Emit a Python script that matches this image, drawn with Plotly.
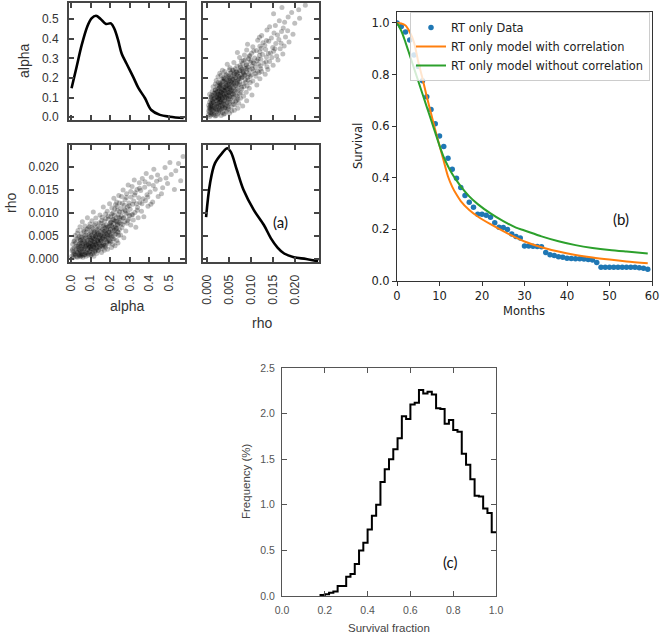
import plotly.graph_objects as go

W, H = 660, 635

# ---------------- (a) pair plot ----------------
alpha_kde_x = [0.003, 0.029, 0.055, 0.083, 0.105, 0.128, 0.150, 0.179, 0.204, 0.222, 0.241, 0.259,
               0.284, 0.318, 0.344, 0.378, 0.410, 0.454, 0.505, 0.575]
alpha_kde_y = [0.148, 0.258, 0.369, 0.462, 0.505, 0.518, 0.503, 0.476, 0.479, 0.450, 0.392, 0.324,
               0.273, 0.205, 0.150, 0.097, 0.037, 0.012, 0.003, -0.004]

rho_kde_x = [-0.0002, 0.0007, 0.0018, 0.0034, 0.0046, 0.0054, 0.0068, 0.0083, 0.0106, 0.0129,
             0.0145, 0.0160, 0.0175, 0.0197, 0.0225, 0.0252]
rho_kde_y = [0.0091, 0.0165, 0.0208, 0.0230, 0.0241, 0.0233, 0.0193, 0.0150, 0.0107, 0.0074,
             0.0045, 0.0025, 0.0012, 0.0004, 0.0000, -0.0005]

samples = [
    (0.004, 0.6), (0.008, 2.1), (0.011, 0.3), (0.015, 3.8), (0.018, 1.2), (0.021, 5.1), (0.023, 0.8),
    (0.026, 2.7), (0.028, 1.6), (0.031, 4.4), (0.033, 0.4), (0.035, 3.1), (0.036, 6.2), (0.038, 1.9),
    (0.040, 2.4), (0.041, 0.9), (0.043, 4.9), (0.044, 3.4), (0.045, 1.3), (0.046, 7.0), (0.047, 2.9),
    (0.048, 0.5), (0.049, 4.1), (0.050, 1.7), (0.013, 1.5),
    (0.051, 3.6), (0.052, 0.7), (0.053, 5.5), (0.055, 2.2), (0.056, 1.1), (0.057, 4.2), (0.058, 8.1),
    (0.060, 3.0), (0.061, 0.4), (0.062, 2.6), (0.064, 6.3), (0.065, 1.8), (0.066, 3.9), (0.068, 0.9),
    (0.069, 5.0), (0.070, 2.4), (0.071, 7.2), (0.073, 3.3), (0.074, 1.4), (0.075, 4.6), (0.077, 0.6),
    (0.078, 2.9), (0.079, 5.8), (0.080, 3.7), (0.082, 1.2), (0.083, 4.0), (0.084, 9.0), (0.086, 2.0),
    (0.087, 6.7), (0.088, 3.2), (0.090, 0.8), (0.091, 4.8), (0.092, 2.5), (0.093, 5.3), (0.095, 1.6),
    (0.096, 3.5), (0.097, 7.6), (0.098, 2.8), (0.099, 4.4), (0.100, 1.0),
    (0.101, 4.1), (0.102, 2.3), (0.103, 6.0), (0.104, 0.9), (0.105, 3.4), (0.106, 5.2), (0.107, 8.3),
    (0.108, 2.7), (0.109, 4.6), (0.110, 1.5), (0.111, 3.8), (0.112, 6.6), (0.113, 2.0), (0.114, 10.2),
    (0.115, 4.9), (0.116, 3.1), (0.117, 0.6), (0.118, 5.6), (0.119, 2.5), (0.120, 7.4), (0.121, 3.6),
    (0.122, 4.3), (0.123, 1.8), (0.124, 6.1), (0.125, 3.0), (0.126, 5.0), (0.127, 8.9), (0.128, 2.2),
    (0.129, 4.7), (0.130, 3.3), (0.131, 1.2), (0.133, 5.9), (0.134, 4.0), (0.135, 2.8), (0.136, 7.0),
    (0.138, 3.7), (0.139, 5.4), (0.140, 1.9), (0.141, 4.4), (0.143, 6.8), (0.144, 3.2), (0.145, 2.4),
    (0.147, 5.1), (0.148, 9.6), (0.149, 4.2),
    (0.151, 5.3), (0.152, 2.9), (0.153, 7.8), (0.154, 4.1), (0.156, 1.4), (0.157, 6.2), (0.158, 3.6),
    (0.159, 9.1), (0.160, 5.0), (0.162, 2.3), (0.163, 7.1), (0.164, 4.6), (0.165, 11.3), (0.166, 3.3),
    (0.168, 6.0), (0.169, 5.5), (0.170, 1.9), (0.171, 8.2), (0.172, 4.3), (0.174, 6.8), (0.175, 3.0),
    (0.176, 5.7), (0.177, 9.8), (0.178, 2.6), (0.180, 7.4), (0.181, 4.8), (0.182, 6.4), (0.184, 3.8),
    (0.185, 10.4), (0.186, 5.2), (0.187, 2.1), (0.189, 7.0), (0.190, 4.5), (0.191, 8.7), (0.193, 6.1),
    (0.194, 3.4), (0.195, 5.9), (0.197, 12.0), (0.198, 4.0), (0.199, 7.7),
    (0.201, 6.5), (0.202, 3.7), (0.203, 9.2), (0.204, 5.4), (0.205, 8.0), (0.207, 2.5), (0.208, 7.3),
    (0.209, 11.1), (0.210, 4.8), (0.211, 6.9), (0.213, 8.6), (0.214, 3.2), (0.215, 10.0), (0.216, 5.9),
    (0.218, 7.7), (0.219, 13.2), (0.220, 4.3), (0.221, 9.5), (0.222, 6.2), (0.224, 8.3), (0.225, 2.9),
    (0.226, 7.0), (0.227, 11.8), (0.229, 5.5), (0.230, 9.0), (0.231, 6.6), (0.233, 12.4), (0.234, 4.0),
    (0.235, 8.1), (0.236, 10.6), (0.238, 6.0), (0.239, 7.5), (0.240, 3.5), (0.242, 9.7), (0.243, 5.1),
    (0.244, 13.8), (0.246, 7.9), (0.247, 6.4), (0.248, 10.3), (0.249, 8.8),
    (0.251, 8.4), (0.253, 5.2), (0.255, 11.0), (0.257, 9.3), (0.258, 13.6), (0.260, 6.8), (0.262, 10.2),
    (0.264, 7.5), (0.266, 15.0), (0.268, 9.0), (0.270, 4.6), (0.272, 11.7), (0.274, 8.1), (0.276, 12.9),
    (0.278, 10.5), (0.280, 6.1), (0.282, 9.8), (0.284, 14.2), (0.286, 7.8), (0.288, 11.3), (0.290, 10.0),
    (0.292, 16.1), (0.294, 8.7), (0.296, 12.2), (0.299, 9.4),
    (0.302, 10.8), (0.305, 7.4), (0.307, 13.5), (0.310, 9.6), (0.312, 15.8), (0.315, 11.9), (0.318, 8.5),
    (0.320, 12.6), (0.323, 17.2), (0.326, 10.1), (0.328, 14.4), (0.331, 6.9), (0.334, 12.0), (0.337, 15.1),
    (0.340, 11.2), (0.343, 9.0), (0.346, 13.3), (0.349, 16.6),
    (0.352, 12.3), (0.356, 14.9), (0.360, 10.4), (0.364, 17.5), (0.368, 13.1), (0.372, 9.2), (0.376, 15.6),
    (0.380, 12.7), (0.384, 18.6), (0.388, 14.0), (0.393, 11.5), (0.397, 16.3),
    (0.404, 14.6), (0.410, 17.8), (0.417, 12.4), (0.423, 19.5), (0.430, 15.2), (0.437, 16.9), (0.445, 13.6),
    (0.455, 17.3), (0.468, 15.5), (0.480, 19.9), (0.493, 16.4),
    (0.512, 18.4), (0.528, 15.1), (0.549, 20.8), (0.572, 22.3),
    # denser core
    (0.006, 1.8), (0.009, 3.2), (0.012, 0.9), (0.016, 2.4), (0.019, 4.0), (0.022, 1.1), (0.024, 3.5),
    (0.027, 0.5), (0.029, 2.2), (0.032, 5.6), (0.034, 1.4), (0.037, 2.8), (0.039, 4.6), (0.042, 0.7),
    (0.044, 2.0), (0.046, 3.9), (0.049, 1.0), (0.052, 2.7), (0.054, 4.8), (0.057, 1.6), (0.059, 3.4),
    (0.062, 0.8), (0.063, 4.5), (0.066, 2.1), (0.067, 6.0), (0.070, 3.6), (0.072, 1.0), (0.074, 2.7),
    (0.076, 5.2), (0.078, 1.5), (0.081, 3.1), (0.083, 6.5), (0.085, 2.3), (0.087, 4.2), (0.089, 1.3),
    (0.091, 3.0), (0.093, 7.0), (0.094, 2.6), (0.096, 4.9), (0.098, 1.8),
    (0.100, 3.4), (0.102, 5.7), (0.104, 2.2), (0.106, 4.0), (0.108, 6.9), (0.110, 3.0), (0.112, 1.1),
    (0.114, 4.4), (0.116, 2.6), (0.118, 5.9), (0.120, 3.8), (0.122, 1.6), (0.124, 4.9), (0.126, 7.7),
    (0.128, 3.2), (0.130, 5.3), (0.132, 2.4), (0.134, 6.4), (0.136, 4.1), (0.138, 1.9), (0.140, 5.6),
    (0.142, 3.5), (0.144, 7.9), (0.146, 4.6), (0.148, 2.7), (0.150, 6.0),
    (0.152, 3.9), (0.155, 5.1), (0.157, 8.4), (0.159, 2.8), (0.161, 6.5), (0.163, 4.4), (0.165, 3.1),
    (0.167, 7.3), (0.169, 5.0), (0.171, 2.9), (0.173, 6.1), (0.176, 4.2), (0.178, 8.8), (0.180, 5.4),
    (0.183, 3.6), (0.185, 6.9), (0.188, 4.9), (0.190, 9.3), (0.192, 5.8), (0.195, 3.9), (0.197, 7.2),
    (0.199, 5.1),
    (0.202, 7.9), (0.205, 5.0), (0.208, 9.8), (0.211, 6.2), (0.214, 4.4), (0.217, 8.6), (0.220, 6.8),
    (0.223, 10.9), (0.226, 5.3), (0.229, 8.2), (0.232, 6.7), (0.235, 11.5), (0.238, 7.4), (0.241, 5.8),
    (0.244, 9.1), (0.247, 12.2),
    (0.255, 7.6), (0.262, 12.1), (0.268, 8.9), (0.275, 10.7), (0.283, 13.4), (0.290, 8.3), (0.297, 11.6),
    (0.305, 14.7), (0.315, 9.7), (0.325, 13.9), (0.338, 10.6), (0.350, 15.4), (0.362, 12.0), (0.378, 16.8),
    (0.392, 13.5), (0.408, 11.9), (0.420, 16.0), (0.442, 18.3), (0.462, 14.2), (0.485, 17.6), (0.505, 21.0),
    (0.535, 19.2), (0.560, 17.0),
]
alpha_samples = [a for a, r in samples]
rho_samples = [r / 1000.0 for a, r in samples]

alpha_ticks = [0.0, 0.1, 0.2, 0.3, 0.4, 0.5]
rho_ticks = [0.000, 0.005, 0.010, 0.015, 0.020]

# ---------------- (b) survival ----------------
months = list(range(60))
survival_data = [1.000, 0.986, 0.965, 0.934, 0.876, 0.831, 0.776, 0.714, 0.665, 0.609,
                 0.562, 0.521, 0.476, 0.433, 0.398, 0.362, 0.331, 0.305, 0.286, 0.259,
                 0.259, 0.255, 0.247, 0.226, 0.208, 0.207, 0.200, 0.182, 0.172, 0.167,
                 0.136, 0.136, 0.135, 0.134, 0.133, 0.110, 0.102, 0.099, 0.094, 0.092,
                 0.088, 0.087, 0.086, 0.086, 0.085, 0.083, 0.081, 0.072, 0.053, 0.053,
                 0.053, 0.053, 0.053, 0.053, 0.053, 0.053, 0.053, 0.051, 0.049, 0.046]
model_months = [0, 1, 2, 3, 4, 5, 6, 7, 8, 9, 10, 11, 12, 13, 14, 15, 17, 19, 22, 25, 28, 30,
                34, 38, 42, 46, 50, 54, 59]
surv_with_corr = [1.0, 0.998, 0.990, 0.965, 0.925, 0.850, 0.785, 0.715, 0.650, 0.585, 0.525,
                  0.465, 0.405, 0.365, 0.335, 0.310, 0.275, 0.250, 0.220, 0.193, 0.168, 0.153,
                  0.131, 0.114, 0.101, 0.091, 0.083, 0.076, 0.069]
surv_without_corr = [1.0, 0.970, 0.925, 0.875, 0.825, 0.775, 0.725, 0.675, 0.625, 0.575, 0.525,
                     0.480, 0.445, 0.415, 0.390, 0.367, 0.328, 0.298, 0.262, 0.232, 0.207, 0.196,
                     0.173, 0.154, 0.139, 0.128, 0.120, 0.114, 0.107]

# ---------------- (c) histogram ----------------
hist_left = [0.18, 0.20, 0.22, 0.24, 0.26, 0.28, 0.30, 0.32, 0.34, 0.36, 0.38, 0.40, 0.42, 0.44,
             0.46, 0.48, 0.50, 0.52, 0.54, 0.56, 0.58, 0.60, 0.62, 0.64, 0.66, 0.68, 0.70, 0.72,
             0.74, 0.76, 0.78, 0.80, 0.82, 0.84, 0.86, 0.88, 0.90, 0.92, 0.94, 0.96, 0.98]
hist_freq = [0.01, 0.02, 0.035, 0.05, 0.11, 0.11, 0.21, 0.24, 0.35, 0.50, 0.585, 0.73, 0.88, 1.00,
             1.25, 1.39, 1.50, 1.61, 1.73, 1.97, 1.94, 2.10, 2.12, 2.26, 2.22, 2.24, 2.21, 2.06,
             2.05, 1.89, 1.93, 1.82, 1.80, 1.56, 1.44, 1.28, 1.10, 1.09, 0.96, 0.91, 0.70]
hist_right_edge = 1.0


def px_x(a, b):
    return [a / W, b / W]


def px_y(top, bottom):
    return [1 - bottom / H, 1 - top / H]


fig = go.Figure()

# (a) traces
fig.add_trace(go.Scatter(x=alpha_kde_x, y=alpha_kde_y, mode="lines", line=dict(color="black", width=2.6, shape="spline"),
                         xaxis="x", yaxis="y", showlegend=False))
fig.add_trace(go.Scatter(x=rho_samples, y=alpha_samples, mode="markers",
                         marker=dict(color="rgba(0,0,0,0.25)", size=5, line=dict(width=0)),
                         xaxis="x2", yaxis="y2", showlegend=False))
fig.add_trace(go.Scatter(x=alpha_samples, y=rho_samples, mode="markers",
                         marker=dict(color="rgba(0,0,0,0.25)", size=5, line=dict(width=0)),
                         xaxis="x3", yaxis="y3", showlegend=False))
fig.add_trace(go.Scatter(x=rho_kde_x, y=rho_kde_y, mode="lines", line=dict(color="black", width=2.6, shape="spline"),
                         xaxis="x4", yaxis="y4", showlegend=False))

# (b) traces
fig.add_trace(go.Scatter(x=months, y=survival_data, mode="markers", name="RT only Data",
                         marker=dict(color="#1f77b4", size=5.5), xaxis="x5", yaxis="y5"))
fig.add_trace(go.Scatter(x=model_months, y=surv_with_corr, mode="lines", name="RT only model with correlation",
                         line=dict(color="#ff7f0e", width=2, shape="spline", smoothing=0.8),
                         xaxis="x5", yaxis="y5"))
fig.add_trace(go.Scatter(x=model_months, y=surv_without_corr, mode="lines", name="RT only model without correlation",
                         line=dict(color="#2ca02c", width=2, shape="spline", smoothing=0.8),
                         xaxis="x5", yaxis="y5"))

# (c) histogram as step line
hx = [hist_left[0]] + hist_left + [hist_right_edge]
hy = [0] + hist_freq + [hist_freq[-1]]
fig.add_trace(go.Scatter(x=hx, y=hy, mode="lines", line=dict(color="black", width=2, shape="hv"),
                         xaxis="x6", yaxis="y6", showlegend=False))

A_FONT = dict(family="Liberation Sans, Arial, sans-serif", size=12, color="#333333")
a_common = dict(showline=True, linecolor="#454545", linewidth=2, mirror="ticks", ticks="inside",
                ticklen=5, tickwidth=1.5, tickcolor="#454545", showgrid=False, zeroline=False,
                tickfont=A_FONT, ticklabelstandoff=6)

alpha_range = [-0.010, 0.582]
rho_x_range = [-0.0009, 0.0254]
alpha_y_range = [-0.014, 0.583]
rho_y_range = [-0.00065, 0.0248]

XA1, XA2 = px_x(69, 185), px_x(203, 319)
YA1, YA2 = px_y(3, 120), px_y(145, 262)

layout_axes = dict(
    xaxis=dict(domain=XA1, range=alpha_range, tickvals=alpha_ticks, showticklabels=False, anchor="y", **a_common),
    yaxis=dict(domain=YA1, range=alpha_y_range, tickvals=alpha_ticks, tickformat=".1f", anchor="x", **a_common),
    xaxis2=dict(domain=XA2, range=rho_x_range, tickvals=rho_ticks, showticklabels=False, anchor="y2", **a_common),
    yaxis2=dict(domain=YA1, range=alpha_y_range, tickvals=alpha_ticks, showticklabels=False, anchor="x2", **a_common),
    xaxis3=dict(domain=XA1, range=alpha_range, tickvals=alpha_ticks, tickformat=".1f", tickangle=-90, anchor="y3", **a_common),
    yaxis3=dict(domain=YA2, range=rho_y_range, tickvals=rho_ticks, tickformat=".3f", anchor="x3", **a_common),
    xaxis4=dict(domain=XA2, range=rho_x_range, tickvals=rho_ticks, tickformat=".3f", tickangle=-90, anchor="y4", **a_common),
    yaxis4=dict(domain=YA2, range=rho_y_range, tickvals=rho_ticks, showticklabels=False, anchor="x4", **a_common),
)

B_FONT = dict(family="DejaVu Sans, sans-serif", size=11.5, color="#222222")
b_common = dict(showline=True, linecolor="#333333", linewidth=1, mirror=True, ticks="outside", ticklen=4,
                tickwidth=1, tickcolor="#333333", showgrid=False, zeroline=False, tickfont=B_FONT)
layout_axes.update(
    xaxis5=dict(domain=px_x(397, 652), range=[0, 60], tickvals=[0, 10, 20, 30, 40, 50, 60], anchor="y5",
                ticklabelstandoff=0, **b_common),
    yaxis5=dict(domain=px_y(12, 281), range=[0, 1.0426], tickvals=[0, 0.2, 0.4, 0.6, 0.8, 1.0], tickformat=".1f",
                anchor="x5", **b_common),
)

C_FONT = dict(family="Liberation Sans, Arial, sans-serif", size=10.5, color="#555555")
c_common = dict(showline=True, linecolor="#555555", linewidth=1.3, mirror="ticks", ticks="inside", ticklen=5,
                tickwidth=1.2, tickcolor="#555555", showgrid=False, zeroline=False, tickfont=C_FONT,
                ticklabelstandoff=4)
layout_axes.update(
    xaxis6=dict(domain=px_x(282, 496), range=[0, 1], tickvals=[0, 0.2, 0.4, 0.6, 0.8, 1.0], tickformat=".1f",
                anchor="y6", **c_common),
    yaxis6=dict(domain=px_y(368, 596), range=[0, 2.5], tickvals=[0, 0.5, 1.0, 1.5, 2.0, 2.5], tickformat=".1f",
                anchor="x6", **c_common),
)


def ann(text, x, y, size, family, color="#333333", angle=0):
    return dict(text=text, x=x / W, y=1 - y / H, xref="paper", yref="paper", showarrow=False,
                xanchor="center", yanchor="middle", textangle=angle,
                font=dict(size=size, family=family, color=color))


LS = "Liberation Sans, Arial, sans-serif"
DV = "DejaVu Sans, sans-serif"
annotations = [
    ann("alpha", 24, 61, 14, LS, angle=-90),
    ann("rho", 11, 203, 14, LS, angle=-90),
    ann("alpha", 127, 306, 14, LS),
    ann("rho", 262, 323, 14, LS),
    ann("(a)", 280, 222, 15, "Lato, sans-serif", color="#111111"),
    ann("Survival", 358, 146, 11.5, DV, color="#222222", angle=-90),
    ann("Months", 524, 311, 11.5, DV, color="#222222"),
    ann("(b)", 621, 219, 15, "Lato, sans-serif", color="#111111"),
    ann("Frequency (%)", 246, 481, 11.5, LS, color="#444444", angle=-90),
    ann("Survival fraction", 389, 628, 11.5, LS, color="#444444"),
    ann("(c)", 450, 562, 15, "Lato, sans-serif", color="#111111"),
]

fig.update_layout(
    width=W, height=H, margin=dict(l=0, r=0, t=0, b=0, autoexpand=False),
    paper_bgcolor="white", plot_bgcolor="white",
    showlegend=True,
    legend=dict(x=410 / W, y=1 - 12 / H, xanchor="left", yanchor="top",
                bgcolor="rgba(255,255,255,0.8)", bordercolor="#cccccc", borderwidth=1,
                font=dict(family=DV, size=11.4, color="#222222"), itemwidth=30),
    annotations=annotations,
    **layout_axes,
)

fig.write_html("out.html", config={"displayModeBar": False},
               post_script="document.body.style.margin='0px';")
